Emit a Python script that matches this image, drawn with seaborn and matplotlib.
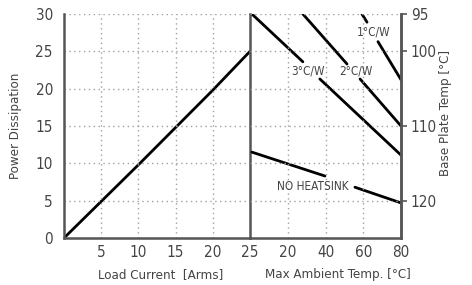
import numpy as np
import pandas as pd
import seaborn as sns
import matplotlib.pyplot as plt

# Data
load_current = [0, 5, 10, 15, 20, 25]
load_power = [0, 4.9, 9.8, 14.8, 19.8, 25]

# heatsink curves: ambient temp, power, segment id (gaps leave room for the labels)
hs3_ambient = [1, 28, 37, 80]
hs3_power = [30, 23.6, 21.3, 11.1]
hs3_seg = [0, 0, 1, 1]

hs2_ambient = [28, 51.4, 58.3, 80]
hs2_power = [30, 23.3, 21.3, 15.0]
hs2_seg = [0, 0, 1, 1]

hs1_ambient = [59.3, 62, 67.8, 80]
hs1_power = [30, 28.9, 26.3, 21.2]
hs1_seg = [0, 0, 1, 1]

nohs_ambient = [1, 39.7, 55.6, 80]
nohs_power = [11.5, 8.3, 6.8, 4.7]
nohs_seg = [0, 0, 1, 1]

labels = ["3°C/W", "2°C/W", "1°C/W", "NO HEATSINK"]
label_ambient = [30.7, 56, 65.5, 33.5]
label_power = [22.4, 22.4, 27.6, 6.9]

power_ticks = [0, 5, 10, 15, 20, 25, 30]
current_ticks = [5, 10, 15, 20, 25]
ambient_ticks = [20, 40, 60, 80]
plate_ticks = [95, 100, 110, 120]

sns.set_style("white")
plt.rcParams['font.family'] = ['DejaVu Sans']
plt.rcParams['font.stretch'] = 'condensed'
txt = '#444444'
spine_c = '#555555'

fig = plt.figure(figsize=(4.72, 2.85), dpi=100)
W, H = 472, 285
x0, xm, x1, yb, yt = 64, 250, 401, 238, 14
axl = fig.add_axes([x0 / W, (H - yb) / H, (xm - x0) / W, (yb - yt) / H])
axr = fig.add_axes([xm / W, (H - yb) / H, (x1 - xm) / W, (yb - yt) / H])
axr.patch.set_visible(False)

grid_kw = dict(color='#a0a0a0', linestyle=(0, (1, 2.5)), linewidth=1.0)

# left panel: power vs load current
sns.lineplot(x=load_current, y=load_power, ax=axl, color='black', linewidth=2.0)
axl.set_xlim(0, 25)
axl.set_ylim(0, 30)
axl.set_xticks(current_ticks)
axl.set_yticks(power_ticks)
for v in current_ticks[:-1]:
    axl.axvline(v, **grid_kw)
for v in power_ticks[1:]:
    axl.axhline(v, **grid_kw)
axl.set_xlabel('Load Current  [Arms]', fontsize=9.5, color=txt)
axl.xaxis.set_label_coords(0.52, -0.135)
axl.set_ylabel('Power Dissipation', fontsize=9.5, color=txt)
axl.yaxis.set_label_coords(-0.225, 0.5)
axl.tick_params(axis='both', length=0, labelsize=11, colors=txt)
axl.tick_params(axis='y', pad=8)
axl.tick_params(axis='x', pad=5)
axl.spines['top'].set_visible(False)
for s in ['left', 'bottom', 'right']:
    axl.spines[s].set_color(spine_c)
    axl.spines[s].set_linewidth(1.8)

# right panel: power vs max ambient temp
df = pd.concat([
    pd.DataFrame({'ambient': hs3_ambient, 'power': hs3_power, 'seg': hs3_seg, 'curve': '3'}),
    pd.DataFrame({'ambient': hs2_ambient, 'power': hs2_power, 'seg': hs2_seg, 'curve': '2'}),
    pd.DataFrame({'ambient': hs1_ambient, 'power': hs1_power, 'seg': hs1_seg, 'curve': '1'}),
    pd.DataFrame({'ambient': nohs_ambient, 'power': nohs_power, 'seg': nohs_seg, 'curve': 'n'}),
])
df['unit'] = df['curve'] + df['seg'].astype(str)
sns.lineplot(data=df, x='ambient', y='power', units='unit', estimator=None,
             ax=axr, color='black', linewidth=2.0, sort=False)
axr.set_xlim(0, 80)
axr.set_ylim(0, 30)
axr.set_xticks(ambient_ticks)
axr.set_yticks([])
for v in ambient_ticks[:-1]:
    axr.axvline(v, **grid_kw)
for v in power_ticks[1:]:
    axr.axhline(v, **grid_kw)
for lab, xa, ya in zip(labels, label_ambient, label_power):
    axr.text(xa, ya, lab, fontsize=8.5, color=txt, ha='center', va='center')
axr.set_xlabel('Max Ambient Temp. [°C]', fontsize=9.5, color=txt)
axr.xaxis.set_label_coords(0.58, -0.135)
axr.set_ylabel('')
axr.tick_params(axis='x', length=0, labelsize=11, colors=txt, pad=5)
axr.spines['top'].set_visible(False)
axr.spines['left'].set_visible(False)
for s in ['bottom', 'right']:
    axr.spines[s].set_color(spine_c)
    axr.spines[s].set_linewidth(1.8)

# base plate temperature axis
axt = axr.twinx()
axt.patch.set_visible(False)
axt.set_ylim(125, 95)
axt.set_yticks(plate_ticks)
axt.tick_params(axis='y', direction='out', length=4, width=1.2, color=spine_c,
                labelsize=11, colors=txt, pad=3)
axt.set_ylabel('Base Plate Temp [°C]', fontsize=9.5, color=txt)
axt.yaxis.set_label_coords(1.25, 0.56)
for s in ['top', 'left', 'bottom']:
    axt.spines[s].set_visible(False)
axt.spines['right'].set_color(spine_c)
axt.spines['right'].set_linewidth(1.8)

fig.savefig('out.png', dpi=100)
